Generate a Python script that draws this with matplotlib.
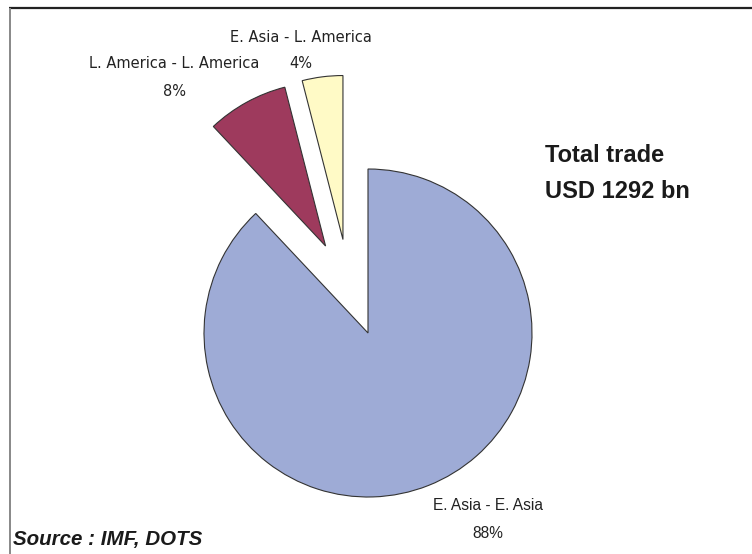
import numpy as np
import matplotlib.pyplot as plt

# trade shares by route
routes = ['E. Asia - E. Asia', 'L. America - L. America', 'E. Asia - L. America']
shares = [88, 8, 4]
colors = ['#9eabd6', '#9e3a5d', '#fffac6']
explode = [0, 0.59, 0.59]          # fraction of the radius
# direction (deg) each exploded slice is pulled out along, None = mid angle
pull_dir = [None, 116, 105]

# label placement in pixel space (x, y from top)
label_pos = [(488, 506), (174, 64), (301, 37)]
pct_pos = [(488, 533), (174, 91), (301, 64)]
label_font = [('Liberation Sans', 11.2), ('DejaVu Sans', 10.5), ('DejaVu Sans', 10.5)]

W, H = 752, 554
fig = plt.figure(figsize=(W / 100, H / 100), dpi=100)
ax = fig.add_axes([0, 0, 1, 1])

cx, cy, r = 368, H - 333, 164
wedges, _ = ax.pie(shares, colors=colors, explode=[e * r for e in explode],
                   startangle=90, counterclock=False, center=(cx, cy), radius=r,
                   wedgeprops=dict(edgecolor='#333333', linewidth=0.8),
                   frame=True)
ax.set_xlim(0, W)
ax.set_ylim(0, H)
ax.set_aspect('equal')
ax.axis('off')

for w, e, d in zip(wedges, explode, pull_dir):
    if d is not None:
        a = np.deg2rad(d)
        w.set_center((cx + e * r * np.cos(a), cy + e * r * np.sin(a)))

for name, s, (lx, ly), (px, py), (fam, fs) in zip(routes, shares, label_pos,
                                                  pct_pos, label_font):
    ax.text(lx, H - ly, name, ha='center', va='center', fontsize=fs,
            family=fam, color='#222222')
    ax.text(px, H - py, f'{s}%', ha='center', va='center', fontsize=fs,
            family=fam, color='#222222')

ax.text(545, H - 155, 'Total trade', ha='left', va='center', fontsize=17,
        fontweight='bold', family='Liberation Sans', color='#1a1a1a')
ax.text(545, H - 191, 'USD 1292 bn', ha='left', va='center', fontsize=17,
        fontweight='bold', family='Liberation Sans', color='#1a1a1a')

ax.text(13, H - 540, 'Source : IMF, DOTS', ha='left', va='center', fontsize=14.8,
        fontweight='bold', fontstyle='italic', family='Liberation Sans',
        color='#1a1a1a')

# frame: top and left edges only
ax.plot([8.5, W], [H - 7.5, H - 7.5], color='#222222', linewidth=1.6,
        solid_capstyle='butt')
ax.plot([9.5, 9.5], [H - 7.5, 0], color='#888888', linewidth=1.4,
        solid_capstyle='butt')

fig.savefig('out.png', dpi=100)
